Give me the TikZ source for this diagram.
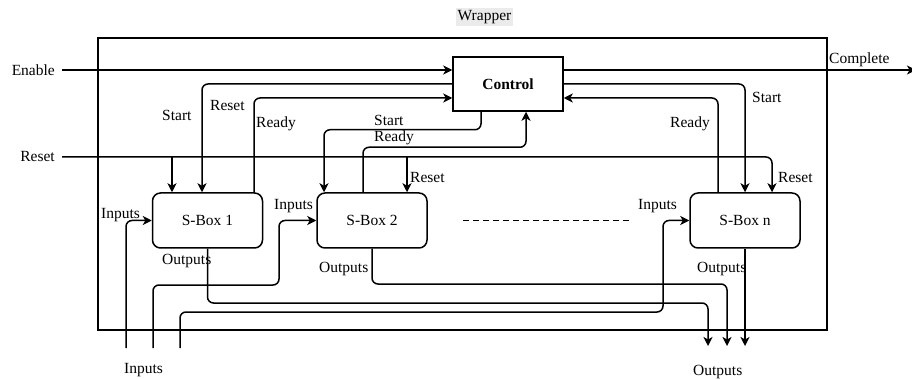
\documentclass[tikz,border=0pt]{standalone}
\usepackage{fontspec}
\setmainfont{Liberation Serif}
\usetikzlibrary{arrows.meta,calc}
\begin{document}
\begin{tikzpicture}[x=1pt,y=-1pt,
  font=\fontsize{15.5}{18}\selectfont,
  wire/.style={line width=1.5pt, rounded corners=6pt},
  sig/.style={wire, -{Stealth[length=9pt,width=9pt,inset=2.5pt]}},
  block/.style={draw, line width=1.5pt, minimum width=110pt, minimum height=55pt, inner sep=0pt},
  sbox/.style={block, rounded corners=8pt},
  lbl/.style={inner sep=0pt, anchor=west}]
\useasboundingbox (0,0) rectangle (912,379);

% outer wrapper frame and its title
\node[draw, line width=1.5pt, minimum width=729pt, minimum height=292pt, inner sep=0pt] (wrap) at (462.5,184) {};
\node[fill=black!8, inner sep=2pt] (wraptitle) at (484.5,17) {Wrapper};

% blocks
\node[block, minimum height=54pt, font=\fontsize{15.5}{18}\selectfont\bfseries] (ctrl) at (508,84) {Control};
\node[sbox] (sb1) at (207.5,220.5) {S-Box 1};
\node[sbox] (sb2) at (372,220.5) {S-Box 2};
\node[sbox] (sbn) at (745,220.5) {S-Box n};

% external signal names
\node[inner sep=0pt, anchor=east] (enable) at (55,70) {Enable};
\node[inner sep=0pt, anchor=east] (rst) at (55,157) {Reset};
\node[lbl] (cmp) at (829,60) {Complete};
\node[lbl] (inlbl) at (124,370) {Inputs};
\node[lbl] (outlbl) at (693,372) {Outputs};

% pin positions on the blocks
\coordinate (t1r) at ([xshift=-35.5pt]sb1.north);
\coordinate (t1s) at ([xshift=-5.5pt]sb1.north);
\coordinate (t1y) at ([xshift=46.5pt]sb1.north);
\coordinate (t2s) at ([xshift=-48pt]sb2.north);
\coordinate (t2y) at ([xshift=-9pt]sb2.north);
\coordinate (t2r) at ([xshift=35pt]sb2.north);
\coordinate (tny) at ([xshift=-27pt]sbn.north);
\coordinate (tnr) at ([xshift=27pt]sbn.north);
\coordinate (c2s) at ([xshift=-27pt]ctrl.south);
\coordinate (c2y) at ([xshift=18pt]ctrl.south);
\coordinate (cmpend) at (916,70);

% enable / complete
\draw[sig] ([xshift=7pt]enable.east) -- ([yshift=14pt]ctrl.west);
\draw[sig] ([yshift=14pt]ctrl.east) -- (cmpend);

% global reset and its branches
\draw[sig] ([xshift=7pt]rst.east) -| (tnr);
\draw[sig] (t1r |- rst) -- (t1r);
\draw[sig] (t2r |- rst) -- (t2r);

% start / ready handshakes
\draw[sig] (ctrl.west) -| (t1s);
\draw[sig] (t1y) |- ([yshift=-14pt]ctrl.west);
\draw[sig] (c2s) -- ++(0,18) -| (t2s);
\draw[sig] (t2y) -- ++(0,-45) -| (c2y);
\draw[sig] (ctrl.east) -| (sbn.north);
\draw[sig] (tny) |- ([yshift=-14pt]ctrl.east);

% handshake labels
\node[lbl] (s1lbl) at (162,115) {Start};
\node[lbl] (r1lbl) at (210,106) {Reset};
\node[lbl] (y1lbl) at (256,124) {Ready};
\node[lbl] (s2lbl) at (374,120) {Start};
\node[lbl] (y2lbl) at (374,138) {Ready};
\node[lbl] (r2lbl) at (410,178) {Reset};
\node[lbl] (snlbl) at (752,97) {Start};
\node[lbl] (ynlbl) at (670,124) {Ready};
\node[lbl] (rnlbl) at (778,178) {Reset};

% data inputs
\coordinate (i1) at (126,348);
\coordinate (i2) at (153,348);
\coordinate (i3) at (180,348);
\coordinate (i2k) at (279,285);
\coordinate (i3k) at (663,312);
\draw[sig] (i1) |- (sb1.west);
\draw[sig] (i2) |- (i2k) |- (sb2.west);
\draw[sig] (i3) |- (i3k) |- (sbn.west);
\node[lbl] (in1lbl) at (101,215) {Inputs};
\node[lbl] (in2lbl) at (274,206) {Inputs};
\node[lbl] (in3lbl) at (638,206) {Inputs};

% data outputs
\coordinate (o1k) at (708,303);
\coordinate (o2k) at (727,284);
\coordinate (oend) at (745,346);
\draw[sig] (sb1.south) |- (o1k) -- (o1k |- oend);
\draw[sig] (sb2.south) |- (o2k) -- (o2k |- oend);
\draw[sig] (sbn.south) -- (oend);
\node[lbl] (out1lbl) at (162,261) {Outputs};
\node[lbl] (out2lbl) at (319,269) {Outputs};
\node[lbl] (out3lbl) at (697,269) {Outputs};

% further S-boxes omitted
\draw[line width=1.5pt, dash pattern=on 6pt off 4pt] ([xshift=35pt]sb2.east) -- ([xshift=-58pt]sbn.west);
\end{tikzpicture}
\end{document}
